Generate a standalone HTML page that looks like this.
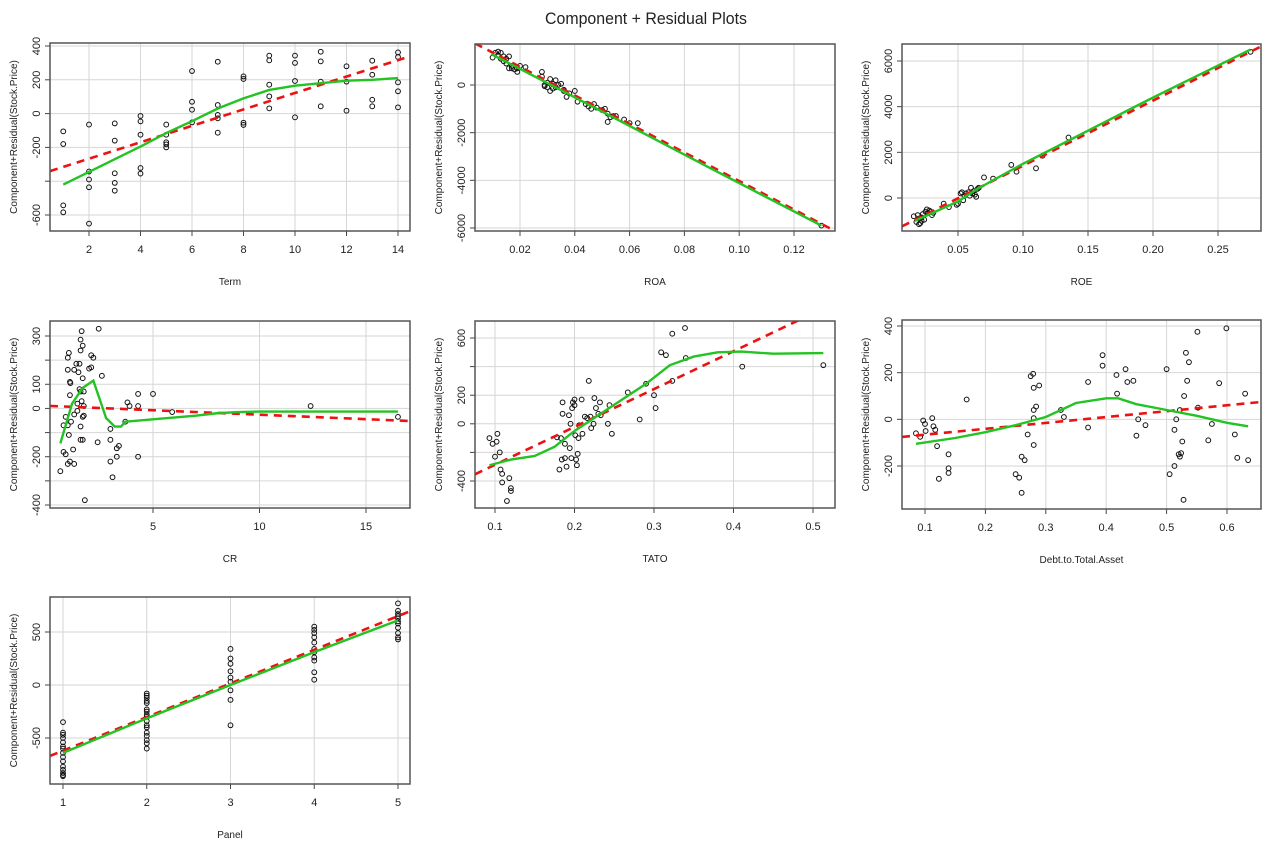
<!DOCTYPE html>
<html><head><meta charset="utf-8"><style>
html,body{margin:0;padding:0;background:#fff;width:1272px;height:843px;overflow:hidden}
svg text{font-family:"Liberation Sans",sans-serif;fill:#222}
</style></head><body>
<svg id="s" width="1272" height="843" xmlns="http://www.w3.org/2000/svg">
<text x="646" y="24" text-anchor="middle" font-size="17" textLength="202" lengthAdjust="spacingAndGlyphs">Component + Residual Plots</text>
</svg>
<script>
// ---- Term ----
const termX=[1,1,1,1,2,2,2,2,2,3,3,3,3,3,4,4,4,4,4,5,5,5,5,5,6,6,6,6,7,7,7,7,7,8,8,8,8,9,9,9,9,9,10,10,10,10,11,11,11,11,12,12,12,13,13,13,13,14,14,14,14,14];
const termY=[-105,-180,-543,-584,-65,-343,-390,-436,-651,-58,-160,-353,-410,-456,-14,-46,-125,-322,-355,-65,-125,-170,-182,-200,252,70,23,-52,307,51,-8,-28,-113,220,205,-54,-67,343,315,171,102,31,343,300,193,-22,366,309,189,43,280,189,17,313,230,82,43,362,335,185,132,37];
const termSmX=[1,2,3,4,5,6,7,8,9,10,11,12,13,14];
const termSmY=[-420,-345,-270,-195,-115,-45,30,90,140,165,180,195,200,210];
const termFit=[-364,48.6];
const termXTicks=[2,4,6,8,10,12,14];
const termYTicks=[400,200,0,-200,-400,-600];
const termYLabels=["400","200","0","-200","","-600"];
// ---- ROA ----
const roaX=[0.010,0.011,0.012,0.012,0.013,0.013,0.014,0.014,0.015,0.015,0.016,0.016,0.017,0.017,0.018,0.019,0.019,0.020,0.022,0.028,0.028,0.029,0.029,0.030,0.030,0.031,0.031,0.032,0.032,0.033,0.033,0.034,0.035,0.036,0.036,0.037,0.038,0.040,0.041,0.044,0.045,0.046,0.047,0.048,0.050,0.051,0.052,0.052,0.053,0.054,0.055,0.058,0.060,0.063,0.130];
const roaY=[1150,1350,1400,1250,1100,1350,1000,1200,1100,900,700,1200,700,800,650,550,700,800,750,350,550,0,-50,100,-100,250,-250,50,-150,200,-100,0,50,-200,-250,-500,-350,-250,-700,-800,-900,-1000,-800,-950,-1050,-1000,-1200,-1550,-1350,-1300,-1300,-1450,-1600,-1600,-5900];
const roaSmX=[0.0095,0.03,0.06,0.09,0.13];
const roaSmY=[1300,80,-1720,-3520,-5900];
const roaFit=[1960,-59900];
const roaXTicks=[0.02,0.04,0.06,0.08,0.10,0.12];
const roaXLabels=["0.02","0.04","0.06","0.08","0.10","0.12"];
const roaYTicks=[0,-2000,-4000,-6000];
const roaYLabels=["0","-2000","-4000","-6000"];
// ---- ROE ----
const roeX=[0.016,0.018,0.019,0.020,0.020,0.021,0.022,0.022,0.023,0.024,0.025,0.026,0.027,0.028,0.029,0.030,0.031,0.039,0.043,0.049,0.050,0.052,0.053,0.054,0.055,0.056,0.058,0.059,0.060,0.061,0.062,0.063,0.064,0.065,0.066,0.070,0.077,0.091,0.095,0.110,0.115,0.135,0.275];
const roeY=[-800,-1050,-750,-1150,-900,-1100,-850,-1000,-700,-950,-600,-500,-650,-550,-600,-750,-650,-250,-400,-300,-250,200,250,-100,100,200,250,100,450,200,300,150,50,400,450,900,850,1450,1150,1300,1850,2650,6400];
const roeSmX=[0.017,0.05,0.065,0.10,0.15,0.20,0.275];
const roeSmY=[-1000,-150,400,1500,2950,4400,6500];
const roeFit=[-1440,28530];
const roeXTicks=[0.05,0.10,0.15,0.20,0.25];
const roeXLabels=["0.05","0.10","0.15","0.20","0.25"];
const roeYTicks=[0,2000,4000,6000];
const roeYLabels=["0","2000","4000","6000"];
// ---- CR ----
const crX=[0.65,0.8,0.8,0.9,0.9,1.0,1.0,1.0,1.0,1.05,1.05,1.1,1.1,1.12,1.1,1.15,1.25,1.3,1.3,1.3,1.4,1.45,1.45,1.5,1.55,1.55,1.6,1.6,1.6,1.6,1.6,1.65,1.65,1.7,1.7,1.7,1.7,1.75,1.75,1.75,1.8,2.0,2.1,2.1,2.2,2.4,2.45,2.6,3.0,3.0,3.0,3.1,3.3,3.4,3.3,3.7,3.8,3.9,4.3,4.3,4.3,5.0,5.9,12.4,16.5];
const crY=[-260,-70,-180,-35,-190,-70,-230,210,160,-110,230,-220,110,105,55,-55,-170,-230,160,-25,185,20,-10,150,185,80,240,285,-130,-75,70,30,320,-130,-35,260,125,-30,70,10,-380,165,170,220,210,-140,330,135,-85,-130,-220,-285,-165,-155,-200,-55,25,10,-200,60,10,60,-15,10,-35];
const crSmX=[0.65,1.2,1.7,2.2,2.8,3.2,3.5,3.7,5,7,8,9,10,12,16.5];
const crSmY=[-145,20,85,115,-40,-75,-75,-55,-45,-30,-20,-15,-13,-13,-13];
const crFit=[11,-3.7];
const crXTicks=[5,10,15];
const crYTicks=[300,200,100,0,-100,-200,-300,-400];
const crYLabels=["300","","100","0","","-200","","-400"];
// ---- TATO ----
const tatoX=[0.093,0.097,0.1,0.102,0.103,0.106,0.107,0.109,0.109,0.115,0.118,0.12,0.12,0.178,0.181,0.183,0.184,0.185,0.185,0.188,0.188,0.19,0.193,0.194,0.195,0.196,0.197,0.198,0.2,0.2,0.201,0.202,0.203,0.204,0.205,0.206,0.209,0.21,0.213,0.216,0.218,0.22,0.221,0.224,0.225,0.227,0.23,0.232,0.233,0.242,0.244,0.247,0.267,0.282,0.29,0.3,0.302,0.309,0.315,0.323,0.323,0.339,0.34,0.411,0.513];
const tatoY=[-100,-140,-230,-125,-70,-200,-320,-350,-410,-540,-380,-450,-470,-95,-320,-100,-250,150,70,-140,-240,-300,60,-170,0,-240,110,150,130,170,-80,-250,-290,-210,-100,-10,170,-70,50,40,300,50,-30,0,180,110,70,150,60,0,130,-70,220,30,280,200,110,500,480,630,300,670,460,400,410];
const tatoSmX=[0.093,0.12,0.15,0.175,0.2,0.23,0.26,0.29,0.32,0.35,0.38,0.41,0.45,0.513];
const tatoSmY=[-290,-250,-225,-160,-50,60,170,280,410,470,500,505,490,495];
const tatoFit=[-551,2646];
const tatoXTicks=[0.1,0.2,0.3,0.4,0.5];
const tatoYTicks=[600,400,200,0,-200,-400];
const tatoYLabels=["600","","200","0","","-400"];
// ---- Debt.to.Total.Asset ----
const debtX=[0.085,0.092,0.097,0.1,0.101,0.112,0.114,0.117,0.12,0.123,0.139,0.139,0.139,0.169,0.25,0.256,0.26,0.26,0.265,0.27,0.275,0.279,0.28,0.28,0.28,0.28,0.284,0.289,0.325,0.33,0.37,0.37,0.394,0.394,0.417,0.418,0.432,0.435,0.445,0.45,0.453,0.465,0.5,0.505,0.513,0.513,0.516,0.52,0.522,0.522,0.524,0.526,0.528,0.529,0.532,0.534,0.537,0.551,0.552,0.569,0.575,0.587,0.599,0.613,0.617,0.63,0.635];
const debtY=[-60,-75,-5,-20,-50,5,-30,-45,-115,-255,-150,-210,-230,85,-235,-250,-315,-160,-175,-65,185,195,135,40,5,-110,55,145,40,10,160,-35,230,275,190,110,215,160,165,-70,0,-25,215,-235,-200,-45,0,-150,-160,40,-145,-95,-345,100,285,165,245,375,50,-90,-20,155,390,-65,-165,110,-175];
const debtSmX=[0.085,0.15,0.2,0.25,0.3,0.35,0.4,0.42,0.45,0.5,0.55,0.6,0.635];
const debtSmY=[-105,-80,-55,-25,10,70,90,90,65,40,15,-15,-30];
const debtFit=[-91,252];
const debtXTicks=[0.1,0.2,0.3,0.4,0.5,0.6];
const debtYTicks=[400,200,0,-200];
const debtYLabels=["400","200","0","-200"];
// ---- Panel ----
const panelX=[1,1,1,1,1,1,1,1,1,1,1,1,1,1,1,2,2,2,2,2,2,2,2,2,2,2,2,2,2,2,2,2,3,3,3,3,3,3,3,3,3,4,4,4,4,4,4,4,4,4,4,4,5,5,5,5,5,5,5,5,5,5,5];
const panelY=[-350,-450,-470,-500,-540,-580,-600,-640,-680,-720,-770,-800,-830,-850,-860,-80,-100,-120,-150,-170,-230,-250,-280,-300,-340,-380,-400,-450,-480,-520,-550,-600,340,250,200,130,70,30,-50,-140,-380,550,520,490,450,400,340,310,260,230,120,50,770,700,670,650,630,600,580,540,490,450,430];
const panelSmX=[1,2,3,4,5];
const panelSmY=[-640,-315,0,310,610];
const panelFit=[-937.5,317.5];
const panelXTicks=[1,2,3,4,5];
const panelYTicks=[500,0,-500];
const panelYLabels=["500","0","-500"];

const NS="http://www.w3.org/2000/svg";
const svg=document.getElementById('s');
function mk(tag,attrs,parent){const e=document.createElementNS(NS,tag);for(const k in attrs)e.setAttribute(k,attrs[k]);(parent||svg).appendChild(e);return e;}
let clipId=0;
function panel(cfg){
  const [L,R,T,B]=cfg.box;
  const sx=v=>cfg.xm[1]+(v-cfg.xm[0])*(cfg.xm[3]-cfg.xm[1])/(cfg.xm[2]-cfg.xm[0]);
  const sy=v=>cfg.ym[1]+(v-cfg.ym[0])*(cfg.ym[3]-cfg.ym[1])/(cfg.ym[2]-cfg.ym[0]);
  const g=mk('g',{});
  
  
  const cid='c'+(clipId++);
  const cp=mk('clipPath',{id:cid},g);mk('rect',{x:L,y:T,width:R-L,height:B-T},cp);
  cfg.xt.forEach((t,i)=>{
    const x=sx(t);
    const gl=mk('line',{x1:x,x2:x,y1:T,y2:B,stroke:'#d6d6d6','stroke-width':1},g);
    
    
    mk('line',{x1:x,x2:x,y1:B,y2:B+5,stroke:'#444'},g);
    const tx=mk('text',{x:x,y:B+22,'text-anchor':'middle','font-size':11},g);
    tx.textContent=cfg.xl?cfg.xl[i]:String(t);
    
    
  });
  cfg.yt.forEach((t,i)=>{
    const y=sy(t);
    const gl=mk('line',{x1:L,x2:R,y1:y,y2:y,stroke:'#d6d6d6','stroke-width':1},g);
    
    
    mk('line',{x1:L-5,x2:L,y1:y,y2:y,stroke:'#444'},g);
    const tx=mk('text',{x:L-10,y:y,'text-anchor':'middle','font-size':11,transform:`rotate(-90 ${L-10} ${y})`},g);
    tx.textContent=cfg.yl[i];
    
    
  });
  const pg=mk('g',{'clip-path':`url(#${cid})`},g);
  cfg.px.forEach((xv,i)=>{
    const c=mk('circle',{cx:sx(xv),cy:sy(cfg.py[i]),r:2.4,fill:'none',stroke:'#111','stroke-width':1},pg);
    
    
  });
  const x0=cfg.xm[0]+(L-cfg.xm[1])*(cfg.xm[2]-cfg.xm[0])/(cfg.xm[3]-cfg.xm[1]);
  const x1=cfg.xm[0]+(R-cfg.xm[1])*(cfg.xm[2]-cfg.xm[0])/(cfg.xm[3]-cfg.xm[1]);
  const fl=mk('line',{x1:L,x2:R,y1:sy(cfg.fit[0]+cfg.fit[1]*x0),y2:sy(cfg.fit[0]+cfg.fit[1]*x1),stroke:'#ee1111','stroke-width':2.6,'stroke-dasharray':'8,6'},pg);
  
  
  const sm=mk('polyline',{points:cfg.smx.map((v,i)=>sx(v)+','+sy(cfg.smy[i])).join(' '),fill:'none',stroke:'#22c322','stroke-width':2.4},pg);
  
  
  const fr=mk('rect',{x:L,y:T,width:R-L,height:B-T,fill:'none',stroke:'#555','stroke-width':1.5},g);
  
  
  const xt=mk('text',{x:(L+R)/2,y:B+54,'text-anchor':'middle','font-size':10},g);
  xt.textContent=cfg.title;
  
  
  const yx=L-33,yy=(T+B)/2;
  const yt=mk('text',{x:yx,y:yy,'text-anchor':'middle','font-size':10,transform:`rotate(-90 ${yx} ${yy})`},g);
  yt.textContent='Component+Residual(Stock.Price)';
  
  
}
panel({name:'term',title:'Term',box:[50,410,43,231],xm:[2,89,14,398],ym:[400,46,-600,215],xt:termXTicks,yt:termYTicks,yl:termYLabels,px:termX,py:termY,smx:termSmX,smy:termSmY,fit:termFit});
panel({name:'roa',title:'ROA',box:[475,835,44,231],xm:[0.02,520,0.12,794],ym:[0,85,-6000,228],xt:roaXTicks,xl:roaXLabels,yt:roaYTicks,yl:roaYLabels,px:roaX,py:roaY,smx:roaSmX,smy:roaSmY,fit:roaFit});
panel({name:'roe',title:'ROE',box:[902,1261,44,231],xm:[0.05,958,0.25,1218],ym:[6000,61,0,198],xt:roeXTicks,xl:roeXLabels,yt:roeYTicks,yl:roeYLabels,px:roeX,py:roeY,smx:roeSmX,smy:roeSmY,fit:roeFit});
panel({name:'cr',title:'CR',box:[50,410,321,508],xm:[5,153,15,366],ym:[300,336,-400,505],xt:crXTicks,yt:crYTicks,yl:crYLabels,px:crX,py:crY,smx:crSmX,smy:crSmY,fit:crFit});
panel({name:'tato',title:'TATO',box:[475,835,321,508],xm:[0.1,495,0.5,813],ym:[600,338,-400,481],xt:tatoXTicks,yt:tatoYTicks,yl:tatoYLabels,px:tatoX,py:tatoY,smx:tatoSmX,smy:tatoSmY,fit:tatoFit});
panel({name:'debt',title:'Debt.to.Total.Asset',box:[902,1261,320,509],xm:[0.1,925,0.6,1227],ym:[400,326,-200,466],xt:debtXTicks,yt:debtYTicks,yl:debtYLabels,px:debtX,py:debtY,smx:debtSmX,smy:debtSmY,fit:debtFit});
panel({name:'panel',title:'Panel',box:[50,410,597,784],xm:[1,63,5,398],ym:[500,632,-500,738],xt:panelXTicks,yt:panelYTicks,yl:panelYLabels,px:panelX,py:panelY,smx:panelSmX,smy:panelSmY,fit:panelFit});
</script>
</body></html>
